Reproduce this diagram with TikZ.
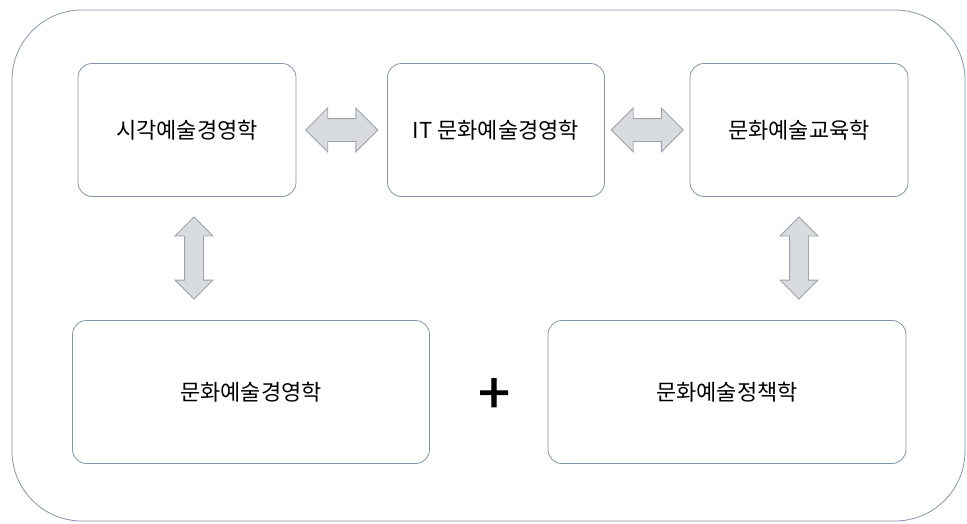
\documentclass[tikz,border=0pt]{standalone}
\usepackage{fontspec}
\newfontfamily\kr{Noto Sans CJK KR}
\newfontfamily\krplus[FakeBold=2]{Noto Sans CJK KR}
\usetikzlibrary{shapes.arrows,calc}
\definecolor{boxline}{HTML}{8494AA}
\definecolor{arrfill}{HTML}{D8DBDF}
\definecolor{arrline}{HTML}{9EA2A8}
\tikzset{
  fieldbox/.style={draw=boxline, line width=0.8pt, rounded corners=14pt, fill=white, font=\kr\fontsize{22}{26}\selectfont, text=black},
  dblarrow/.style={double arrow, draw=arrline, fill=arrfill, line width=0.8pt, inner xsep=0pt, double arrow tip angle=90},
  harrow/.style={dblarrow, minimum height=72pt, inner ysep=11pt, double arrow head extend=10.5pt},
  varrow/.style={dblarrow, rotate=90, minimum height=82pt, inner ysep=9pt, double arrow head extend=9.5pt}
}
\begin{document}
\begin{tikzpicture}[x=1pt,y=-1pt]
\useasboundingbox (0,0) rectangle (967,523);
\draw[boxline, line width=0.8pt, rounded corners=70pt] (12,10) rectangle (965,521);
\node[fieldbox, minimum width=218pt, minimum height=133pt] (a) at (187,130) {시각예술경영학};
\node[fieldbox, minimum width=217pt, minimum height=133pt] (b) at (496,130) {IT 문화예술경영학};
\node[fieldbox, minimum width=218pt, minimum height=133pt] (c) at (799,130) {문화예술교육학};
\node[fieldbox, minimum width=357pt, minimum height=143pt] (d) at (251,392) {문화예술경영학};
\node[fieldbox, minimum width=358pt, minimum height=143pt] (e) at (727,392) {문화예술정책학};
\node[font=\krplus\fontsize{56}{56}\selectfont] (plus) at (494,396) {+};
\node[harrow] (ab) at ($(a.east)!0.5!(b.west)$) {};
\node[harrow] (bc) at ($(b.east)!0.5!(c.west)$) {};
\node[varrow] (ad) at (194,258) {};
\node[varrow] (ce) at (799,258) {};
\end{tikzpicture}
\end{document}
